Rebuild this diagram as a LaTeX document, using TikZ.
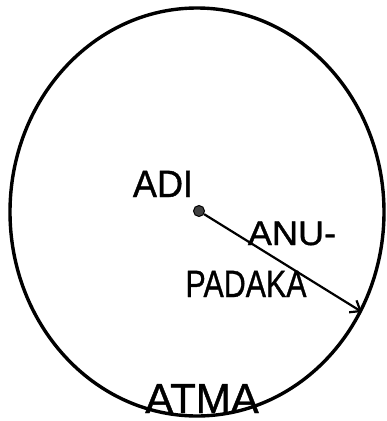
\documentclass[tikz,border=0pt]{standalone}
\usepackage{fontspec}
\setmainfont{Liberation Sans}[FakeBold=1]
\usetikzlibrary{arrows.meta}
\begin{document}
\begin{tikzpicture}[x=1pt,y=-1pt,
  lbl/.style={inner sep=0pt,anchor=base,font=\fontsize{38}{40}\selectfont},
  hub/.style={circle,fill=black!75,draw=black,line width=1pt,minimum size=11pt,inner sep=0pt},
  ray/.style={line width=2.2pt,-{Straight Barb[length=9pt,width=14pt,line width=2.2pt]}}]
\useasboundingbox (0,0) rectangle (387,421);
\draw[line width=3.4pt] (197,212) ellipse [x radius=187, y radius=204];
\node[hub] (dot) at (199,211) {};
\coordinate (tip) at (362,312);
\draw[ray] (dot) -- (tip);
\node[lbl,xscale=0.95] (adi) at (163,197) {ADI};
\node[lbl,xscale=0.95,yscale=0.9] (anu) at (292,245) {ANU-};
\node[lbl,xscale=0.8] (padaka) at (246,297) {PADAKA};
\node[lbl,font=\fontsize{42}{44}\selectfont] (atma) at (202,413) {ATMA};
\end{tikzpicture}
\end{document}
